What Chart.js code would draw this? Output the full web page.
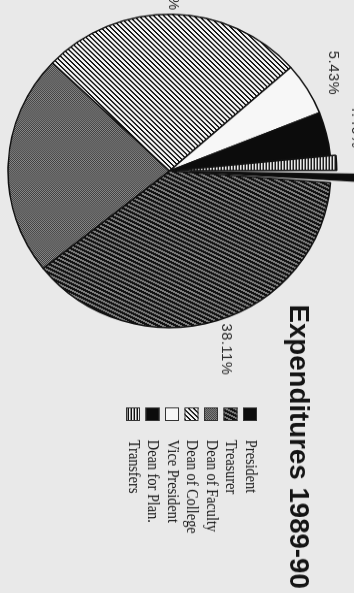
<!DOCTYPE html>
<html><head><meta charset="utf-8">
<script src="https://cdn.jsdelivr.net/npm/chart.js@4.4.1/dist/chart.umd.min.js"></script>
<style>
html,body{margin:0;padding:0;background:#e9e9e9;width:354px;height:593px;overflow:hidden;}
#wrap{position:absolute;left:0;top:0;width:612px;height:354px;transform-origin:0 0;transform:translateX(354px) rotate(90deg) scaleX(0.97);}
canvas{display:block;}
</style></head><body>
<div id="wrap"><canvas id="c" width="612" height="354"></canvas></div>
<script>
// ---- data ----
const categories = ['President', 'Treasurer', 'Dean of Faculty', 'Dean of College', 'Vice President', 'Dean for Plan.', 'Transfers'];
const shares = [1.2, 38.11, 22.8, 26.4, 5.43, 4.46, 1.6];
const chartTitle = 'Expenditures 1989-90';

// ---- fills (hatch patterns like the printed chart) ----
function makePattern(w, h, colorAt) {
  const c = document.createElement('canvas');
  c.width = w; c.height = h;
  const g = c.getContext('2d');
  for (let y = 0; y < h; y++) for (let x = 0; x < w; x++) {
    g.fillStyle = colorAt(x, y);
    g.fillRect(x, y, 1, 1);
  }
  return g.createPattern(c, 'repeat');
}
const fillSolidBlack = '#0c0c0c';
const fillTreasurer = makePattern(9, 9, (x, y) => ((2 * x + y) % 9 < 5 ? '#111' : '#7e7e7e'));
const fillFaculty = makePattern(2, 2, (x, y) => ((x + y) % 2 ? '#8a8a8a' : '#3e3e3e'));
const fillCollege = makePattern(5, 5, (x, y) => ((x + y) % 5 < 2 ? '#141414' : '#f4f4f4'));
const fillVice = '#f7f7f7';
const fillTransfers = makePattern(2, 3, (x, y) => (['#111', '#8c8c8c', '#f0f0f0'][y]));
const fills = [fillSolidBlack, fillTreasurer, fillFaculty, fillCollege, fillVice, fillSolidBlack, fillTransfers];
const explode = [80, 0, 0, 0, 0, 0, 12];

const decor = {
  id: 'decor',
  afterDatasetsDraw(chart) {
    const ctx = chart.ctx;
    const meta = chart.getDatasetMeta(0);
    ctx.save();
    // percentage labels around the pie
    ctx.font = '15px "Liberation Sans", Arial, sans-serif';
    ctx.letterSpacing = '0.6px';
    ctx.fillStyle = '#2a2a2a';
    ctx.textAlign = 'center';
    ctx.textBaseline = 'middle';
    meta.data.forEach((arc, i) => {
      const p = arc.getProps(['x', 'y', 'startAngle', 'endAngle', 'outerRadius'], true);
      const mid = (p.startAngle + p.endAngle) / 2;
      const r = p.outerRadius + 31;
      ctx.fillText(shares[i].toFixed(2) + '%', p.x + Math.cos(mid) * r, p.y + Math.sin(mid) * r);
    });
    ctx.letterSpacing = '0px';
    // title
    ctx.font = 'bold 28.5px "Liberation Sans", Arial, sans-serif';
    ctx.fillStyle = '#141414';
    ctx.textAlign = 'left';
    ctx.textBaseline = 'alphabetic';
    ctx.fillText(chartTitle, 314, 64);
    // legend
    const ds = chart.data.datasets[0];
    ctx.font = '16px "Liberation Serif", "Times New Roman", serif';
    ctx.textBaseline = 'middle';
    chart.data.labels.forEach((lab, i) => {
      const cy = 104 + i * 19.5;
      ctx.fillStyle = ds.backgroundColor[i];
      ctx.fillRect(420, cy - 7, 14, 14);
      ctx.strokeStyle = '#333';
      ctx.lineWidth = 1;
      ctx.strokeRect(420.5, cy - 6.5, 13, 13);
      ctx.save();
      ctx.translate(453.6, cy);
      ctx.scale(0.92, 1);
      ctx.fillStyle = '#141414';
      ctx.fillText(lab, 0, 0);
      ctx.restore();
    });
    ctx.restore();
  }
};

new Chart(document.getElementById('c'), {
  type: 'pie',
  data: {
    labels: categories,
    datasets: [{
      data: shares,
      backgroundColor: fills,
      borderColor: '#111',
      borderWidth: 1.5,
      offset: explode,
      radius: 161.5
    }]
  },
  options: {
    responsive: false,
    animation: false,
    events: [],
    layout: { padding: { left: 0, right: 259.6, top: 15, bottom: 0 } },
    plugins: { legend: { display: false }, title: { display: false }, tooltip: { enabled: false } }
  },
  plugins: [decor]
});
</script>
</body></html>
